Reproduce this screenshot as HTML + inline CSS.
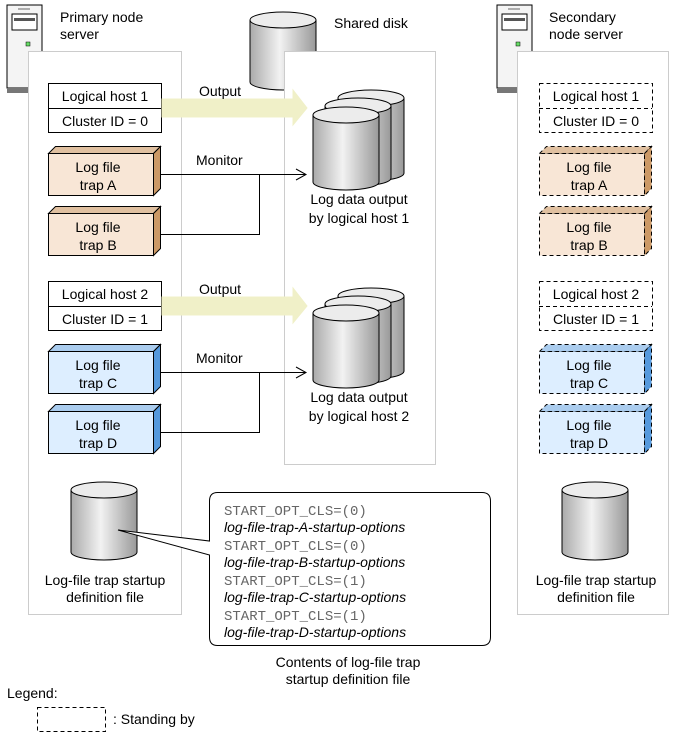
<!DOCTYPE html>
<html><head><meta charset="utf-8"><style>
body{margin:0;background:#fff}
svg{display:block;font-family:"Liberation Sans",sans-serif;font-size:14px}
.m{font-family:"Liberation Mono",monospace;font-size:14px;fill:#666}
.i{font-style:italic}
</style></head><body>
<svg width="675" height="735" viewBox="0 0 675 735">
<defs>
<linearGradient id="g" x1="0" x2="1"><stop offset="0" stop-color="#aaa"/><stop offset="0.45" stop-color="#f2f2f2"/><stop offset="1" stop-color="#999"/></linearGradient>
<g id="cyl"><path d="M0,8 L0,70 A33,8 0 0 0 66,70 L66,8" fill="url(#g)" stroke="#000"/><ellipse cx="33" cy="8" rx="33" ry="8" fill="#ececec" stroke="#000"/></g>
<g id="stk">
<path d="M25,8 L25,83 A33,8 0 0 0 91,83 L91,8" fill="url(#g)" stroke="#000"/><ellipse cx="58" cy="8" rx="33" ry="8" fill="#ececec" stroke="#000"/>
<path d="M12,16 L12,88 A33,8 0 0 0 78,88 L78,16" fill="url(#g)" stroke="#000"/><ellipse cx="45" cy="16" rx="33" ry="8" fill="#ececec" stroke="#000"/>
<path d="M0,25 L0,92 A33,8 0 0 0 66,92 L66,25" fill="url(#g)" stroke="#000"/><ellipse cx="33" cy="25" rx="33" ry="8" fill="#ececec" stroke="#000"/>
</g>
<g id="srv"><rect x="7" y="5" width="35" height="83" fill="#f4f4f4" stroke="#000"/><rect x="12" y="14" width="25" height="16" fill="#fff" stroke="#000"/><rect x="14" y="18" width="21" height="3" fill="#555"/><line x1="18" y1="9" x2="30" y2="9" stroke="#666"/><rect x="26" y="42" width="4" height="4" fill="#6d6" stroke="#000" stroke-width=".5"/><rect x="7" y="88" width="30" height="5" fill="#777"/></g>
</defs>

<use href="#srv"/>
<rect x="28.5" y="51.5" width="153" height="563" fill="#fff" stroke="#ccc"/>
<g transform="translate(490,0)"><use href="#srv"/></g>
<rect x="517.5" y="51.5" width="151" height="563" fill="#fff" stroke="#ccc"/>
<use href="#cyl" x="250" y="12"/>
<rect x="284.5" y="51.5" width="151" height="413" fill="#fff" stroke="#ccc"/>
<text x="60" y="22">Primary node</text><text x="60" y="39">server</text>
<text x="334" y="28">Shared disk</text>
<text x="549" y="22">Secondary</text><text x="549" y="39">node server</text>

<rect x="48.5" y="83.5" width="113" height="49" fill="#fff" stroke="#000"/><line x1="48" y1="108.5" x2="161" y2="108.5" stroke="#000"/>
<text x="105" y="101" text-anchor="middle">Logical host 1</text><text x="105" y="126" text-anchor="middle">Cluster ID = 0</text>
<polygon points="162,99 293,99 293,90 307,108 293,125 293,117 162,117" fill="#f0f0c8" stroke="#f0f0c8"/>
<text x="199" y="96">Output</text>
<text x="196" y="165">Monitor</text>
<path d="M153,174.5 H305 M259.5,174 V234.5 H153" fill="none" stroke="#000"/>
<path d="M296,169 L306,174.5 L296,180" fill="none" stroke="#000"/>
<use href="#stk" x="313" y="90"/>
<text x="359" y="204" text-anchor="middle">Log data output</text><text x="359" y="223" text-anchor="middle">by logical host 1</text>

<rect x="48.5" y="281.5" width="113" height="49" fill="#fff" stroke="#000"/><line x1="48" y1="306.5" x2="161" y2="306.5" stroke="#000"/>
<text x="105" y="299" text-anchor="middle">Logical host 2</text><text x="105" y="324" text-anchor="middle">Cluster ID = 1</text>
<polygon points="162,297 293,297 293,288 307,306 293,323 293,315 162,315" fill="#f0f0c8" stroke="#f0f0c8"/>
<text x="199" y="294">Output</text>
<text x="196" y="363">Monitor</text>
<path d="M153,372.5 H305 M259.5,372 V432.5 H153" fill="none" stroke="#000"/>
<path d="M296,367 L306,372.5 L296,378" fill="none" stroke="#000"/>
<use href="#stk" x="313" y="288"/>
<text x="359" y="402" text-anchor="middle">Log data output</text><text x="359" y="421" text-anchor="middle">by logical host 2</text>

<g stroke="#000">
<g fill="#f8e6d6"><rect x="48.5" y="153.5" width="105" height="42"/><rect x="48.5" y="213.5" width="105" height="42"/></g>
<g fill="#e0c0a0"><polygon points="48.5,153.5 55.5,146.5 160.5,146.5 153.5,153.5"/><polygon points="48.5,213.5 55.5,206.5 160.5,206.5 153.5,213.5"/></g>
<g fill="#cc9966"><polygon points="153.5,153.5 160.5,146.5 160.5,188.5 153.5,195.5"/><polygon points="153.5,213.5 160.5,206.5 160.5,248.5 153.5,255.5"/></g>
<g fill="#ddeeff"><rect x="48.5" y="351.5" width="105" height="42"/><rect x="48.5" y="411.5" width="105" height="42"/></g>
<g fill="#aaccee"><polygon points="48.5,351.5 55.5,344.5 160.5,344.5 153.5,351.5"/><polygon points="48.5,411.5 55.5,404.5 160.5,404.5 153.5,411.5"/></g>
<g fill="#5599dd"><polygon points="153.5,351.5 160.5,344.5 160.5,386.5 153.5,393.5"/><polygon points="153.5,411.5 160.5,404.5 160.5,446.5 153.5,453.5"/></g>
</g>
<g text-anchor="middle">
<text x="98" y="172">Log file</text><text x="98" y="190">trap A</text>
<text x="98" y="232">Log file</text><text x="98" y="250">trap B</text>
<text x="98" y="370">Log file</text><text x="98" y="388">trap C</text>
<text x="98" y="430">Log file</text><text x="98" y="448">trap D</text>
</g>

<g stroke="#000" stroke-dasharray="4,3">
<rect x="539.5" y="83.5" width="113" height="49" fill="#fff"/><line x1="539" y1="108.5" x2="652" y2="108.5"/>
<rect x="539.5" y="281.5" width="113" height="49" fill="#fff"/><line x1="539" y1="306.5" x2="652" y2="306.5"/>
<g fill="#f8e6d6"><rect x="539.5" y="153.5" width="105" height="42"/><rect x="539.5" y="213.5" width="105" height="42"/></g>
<g fill="#e0c0a0"><polygon points="539.5,153.5 546.5,146.5 651.5,146.5 644.5,153.5"/><polygon points="539.5,213.5 546.5,206.5 651.5,206.5 644.5,213.5"/></g>
<g fill="#cc9966"><polygon points="644.5,153.5 651.5,146.5 651.5,188.5 644.5,195.5"/><polygon points="644.5,213.5 651.5,206.5 651.5,248.5 644.5,255.5"/></g>
<g fill="#ddeeff"><rect x="539.5" y="351.5" width="105" height="42"/><rect x="539.5" y="411.5" width="105" height="42"/></g>
<g fill="#aaccee"><polygon points="539.5,351.5 546.5,344.5 651.5,344.5 644.5,351.5"/><polygon points="539.5,411.5 546.5,404.5 651.5,404.5 644.5,411.5"/></g>
<g fill="#5599dd"><polygon points="644.5,351.5 651.5,344.5 651.5,386.5 644.5,393.5"/><polygon points="644.5,411.5 651.5,404.5 651.5,446.5 644.5,453.5"/></g>
</g>
<g text-anchor="middle">
<text x="596" y="101">Logical host 1</text><text x="596" y="126">Cluster ID = 0</text>
<text x="596" y="299">Logical host 2</text><text x="596" y="324">Cluster ID = 1</text>
<text x="589" y="172">Log file</text><text x="589" y="190">trap A</text>
<text x="589" y="232">Log file</text><text x="589" y="250">trap B</text>
<text x="589" y="370">Log file</text><text x="589" y="388">trap C</text>
<text x="589" y="430">Log file</text><text x="589" y="448">trap D</text>
</g>

<use href="#cyl" x="71" y="482"/>
<use href="#cyl" x="562" y="482"/>
<text x="105" y="585" text-anchor="middle">Log-file trap startup</text><text x="105" y="602" text-anchor="middle">definition file</text>
<text x="596" y="585" text-anchor="middle">Log-file trap startup</text><text x="596" y="602" text-anchor="middle">definition file</text>

<path d="M217.5,492.5 H482 Q490.5,492.5 490.5,501 V637 Q490.5,645.5 482,645.5 H217.5 Q209.5,645.5 209.5,637 V555 L118,530 L209.5,541 V501 Q209.5,492.5 217.5,492.5 Z" fill="#fff" stroke="#000"/>
<g>
<text class="m" x="224" y="515">START_OPT_CLS=(0)</text><text class="i" x="224" y="532">log-file-trap-A-startup-options</text>
<text class="m" x="224" y="550">START_OPT_CLS=(0)</text><text class="i" x="224" y="567">log-file-trap-B-startup-options</text>
<text class="m" x="224" y="585">START_OPT_CLS=(1)</text><text class="i" x="224" y="602">log-file-trap-C-startup-options</text>
<text class="m" x="224" y="620">START_OPT_CLS=(1)</text><text class="i" x="224" y="637">log-file-trap-D-startup-options</text>
</g>
<text x="348" y="667" text-anchor="middle">Contents of log-file trap</text><text x="348" y="684" text-anchor="middle">startup definition file</text>

<text x="7" y="698">Legend:</text>
<rect x="37.5" y="707.5" width="68" height="24" fill="none" stroke="#000" stroke-dasharray="4,3"/>
<text x="113" y="724">: Standing by</text>
</svg>
</body></html>
